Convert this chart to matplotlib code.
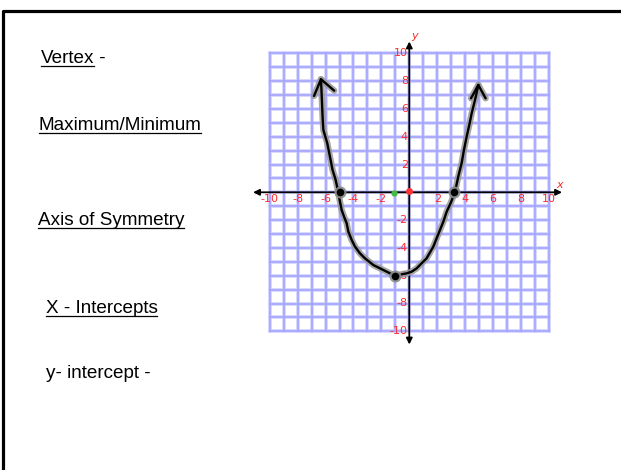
import numpy as np
import matplotlib
matplotlib.use("Agg")
import matplotlib.pyplot as plt

# ---- data ----
labels = ["Vertex", "Maximum/Minimum", "Axis of Symmetry", "X - Intercepts", "y- intercept -"]
label_suffix = [" -", "", "", "", ""]
label_underlined = [True, True, True, True, False]

tick_values = [-10, -8, -6, -4, -2, 2, 4, 6, 8, 10]

curve_x = [-6.33, -6.21, -6.16, -5.88, -5.69, -5.50, -5.28, -5.09, -4.97, -4.85, -4.68,
           -4.49, -4.37, -4.13, -3.89, -3.54, -3.18, -2.58, -2.10, -1.62, -1.03, -0.55,
           -0.19, 0.17, 0.53, 0.88, 1.24, 1.72, 1.96, 2.20, 2.44, 2.68, 2.96, 3.27,
           3.51, 3.75, 3.92, 4.11, 4.30, 4.47, 4.71, 4.95]
curve_y = [8.13, 5.32, 4.48, 3.53, 2.57, 1.61, 0.89, 0.0, -0.67, -1.27, -1.75,
           -2.23, -2.83, -3.43, -3.91, -4.39, -4.75, -5.23, -5.47, -5.71, -6.00, -5.90,
           -5.83, -5.71, -5.47, -5.11, -4.75, -3.91, -3.31, -2.71, -2.11, -1.39, -0.79, 0.0,
           1.13, 2.09, 3.05, 4.00, 4.84, 5.68, 6.64, 7.72]

left_arrow_x = [-6.83, -6.33, -5.38]
left_arrow_y = [6.93, 8.13, 7.31]
right_arrow_x = [4.42, 4.95, 5.47]
right_arrow_y = [6.76, 7.72, 6.76]

marked_x = [-4.97, 3.23, -1.03]
marked_y = [0.03, 0.0, -6.0]

origin_pt = (0.0, 0.1)
green_pt = (-1.1, -0.07)

W, H = 621, 470
fig = plt.figure(figsize=(W / 100, H / 100), dpi=100)
fig.patch.set_facecolor("white")

# slide frame + text, in pixel coordinates
bg = fig.add_axes([0, 0, 1, 1])
bg.set_xlim(0, W)
bg.set_ylim(H, 0)
bg.axis("off")
bg.plot([2.5, 2.5, W], [H, 11, 11], color="black", lw=2.3, solid_capstyle="butt")

text_pos = [(41, 63), (39, 130), (38, 225), (46, 313), (46, 378)]
fs = 13.6
renderer = fig.canvas.get_renderer()
for (x, y), lab, suf, ul in zip(text_pos, labels, label_suffix, label_underlined):
    t = bg.text(x, y, lab, fontsize=fs, family="Liberation Sans", va="baseline", ha="left", color="black")
    bb = t.get_window_extent(renderer=renderer)
    wpx = bb.width
    if ul:
        bg.plot([x, x + wpx - 1], [y + 2.6, y + 2.6], color="black", lw=0.9)
    if suf:
        bg.text(x + wpx, y, suf, fontsize=fs, family="Liberation Sans", va="baseline", ha="left")

# graph axes
ux, uy = 13.95, 13.9
ox, oy = 409.3, 192.3
R = 12
left = (ox - R * ux) / W
bottom = (H - (oy + R * uy)) / H
ax = fig.add_axes([left, bottom, 2 * R * ux / W, 2 * R * uy / H])
ax.set_xlim(-R, R)
ax.set_ylim(-R, R)
ax.axis("off")

grid_vals = np.arange(-10, 11)
for g in grid_vals:
    ax.plot([g, g], [-10, 10], color="#d2d2ff", lw=2.6, zorder=1)
    ax.plot([-10, 10], [g, g], color="#d2d2ff", lw=2.6, zorder=1)
for g in grid_vals:
    ax.plot([g, g], [-10, 10], color="#a3a3ff", lw=1.1, zorder=1.1)
    ax.plot([-10, 10], [g, g], color="#a3a3ff", lw=1.1, zorder=1.1)

# axes with arrowheads
arrow_kw = dict(arrowstyle="<|-|>", color="black", lw=1.3, mutation_scale=9, shrinkA=0, shrinkB=0)
ax.annotate("", xy=(10.95, 0), xytext=(-11.2, 0), arrowprops=arrow_kw, zorder=3)
ax.annotate("", xy=(0, 10.85), xytext=(0, -10.95), arrowprops=arrow_kw, zorder=3)

# tick labels
tick_color = "#ff2a2a"
tfs = 8
for v in tick_values:
    ax.text(v, -0.48, str(v), color=tick_color, fontsize=tfs, ha="center", va="center", zorder=4)
    ax.text(-0.1, v, str(v), color=tick_color, fontsize=tfs, ha="right", va="center", zorder=4)
ax.text(10.75, 0.5, "x", color=tick_color, fontsize=8, style="italic", ha="center", va="center")
ax.text(0.4, 11.25, "y", color=tick_color, fontsize=8, style="italic", ha="center", va="center")

ax.plot(*origin_pt, "o", color="#ff3333", ms=4, zorder=5)
ax.plot(*green_pt, "o", color="#44bb44", ms=3.5, zorder=5)

# hand-drawn parabola with grey halo
halo = dict(color="#999999", lw=4.6, alpha=0.85, solid_capstyle="round", solid_joinstyle="round", zorder=6)
ink = dict(color="black", lw=1.7, solid_capstyle="round", solid_joinstyle="round", zorder=7)
for xs, ys in [(curve_x, curve_y), (left_arrow_x, left_arrow_y), (right_arrow_x, right_arrow_y)]:
    ax.plot(xs, ys, **halo)
    ax.plot(xs, ys, **ink)
ax.scatter(marked_x, marked_y, s=75, color="#888888", alpha=0.9, zorder=8, linewidths=0)
ax.scatter(marked_x, marked_y, s=30, color="black", zorder=9, linewidths=0)

fig.savefig("out.png", dpi=100, facecolor="white")
